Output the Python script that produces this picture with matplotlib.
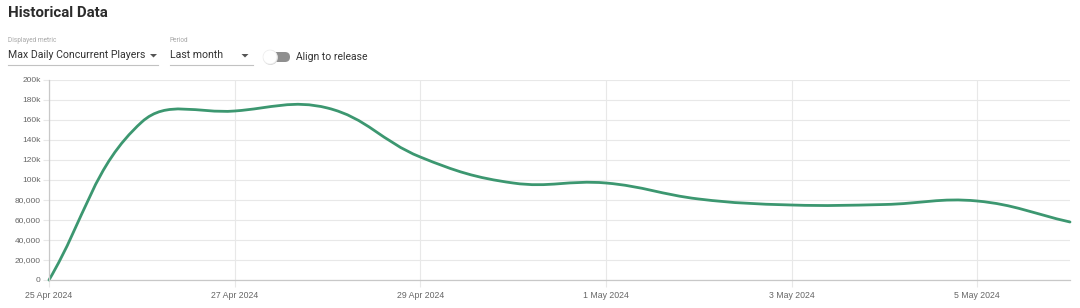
import numpy as np
import matplotlib
matplotlib.use('Agg')
import matplotlib.pyplot as plt
import matplotlib.dates as mdates
from matplotlib.path import Path
from matplotlib.patches import PathPatch, FancyBboxPatch, Circle, Polygon
from matplotlib.lines import Line2D

# ---------------- data ----------------
dates = np.arange(np.datetime64('2024-04-25'), np.datetime64('2024-05-07'))
players = [0, 158000, 169000, 172000, 123000, 97000, 97000, 81000, 75000, 75500, 79000, 58000]

y_ticks = [0, 20000, 40000, 60000, 80000, 100000, 120000, 140000, 160000, 180000, 200000]
y_tick_labels = ['0', '20,000', '40,000', '60,000', '80,000', '100k', '120k', '140k', '160k', '180k', '200k']
x_tick_dates = np.array(['2024-04-25', '2024-04-27', '2024-04-29', '2024-05-01', '2024-05-03', '2024-05-05'],
                        dtype='datetime64[D]')
x_tick_labels = ['25 Apr 2024', '27 Apr 2024', '29 Apr 2024', '1 May 2024', '3 May 2024', '5 May 2024']

title = 'Historical Data'
metric_label = 'Displayed metric'
metric_value = 'Max Daily Concurrent Players'
period_label = 'Period'
period_value = 'Last month'
toggle_label = 'Align to release'

# ---------------- figure ----------------
W, H = 1080, 308
fig = plt.figure(figsize=(W / 100, H / 100), dpi=100)
fig.patch.set_facecolor('white')

def fx(x):
    return x / W

def fy(y):
    return 1 - y / H

left, right, top, bottom = 49, 1070, 80, 280
ax = fig.add_axes([fx(left), fy(bottom), fx(right - left), (bottom - top) / H])

xnum = mdates.date2num(dates.astype('datetime64[D]'))
ax.set_xlim(xnum[0], xnum[-1])
ax.set_ylim(0, 200000)

grid_c = '#e8e8e8'
axis_c = '#c8c8c8'
tick_c = '#666666'
tick_font = ['Liberation Sans', 'DejaVu Sans']

ax.set_yticks(y_ticks)
ax.set_yticklabels(y_tick_labels, fontsize=6, color=tick_c, family=tick_font)
ax.set_xticks(mdates.date2num(x_tick_dates))
ax.set_xticklabels(x_tick_labels, fontsize=6.3, color=tick_c, family=tick_font)
ax.tick_params(axis='y', length=4, width=0.8, color=grid_c, pad=2)
ax.tick_params(axis='x', length=5, width=0.8, color=grid_c, pad=3)
ax.grid(True, color=grid_c, linewidth=0.8)
ax.set_axisbelow(True)
for s in ['top', 'right']:
    ax.spines[s].set_visible(False)
ax.spines['left'].set_color(axis_c)
ax.spines['bottom'].set_color(axis_c)
ax.spines['left'].set_linewidth(0.9)
ax.spines['bottom'].set_linewidth(0.9)

# ---- Chart.js-style spline through data points (tension 0.4) ----
fig.canvas.draw()
pts = ax.transData.transform(np.column_stack([xnum, np.asarray(players, float)]))
n = len(pts)
t = 0.4
cps_prev, cps_next = [], []
for i in range(n):
    prev = pts[i - 1] if i > 0 else pts[i]
    cur = pts[i]
    nxt = pts[i + 1] if i < n - 1 else pts[i]
    d01 = np.hypot(*(cur - prev))
    d12 = np.hypot(*(nxt - cur))
    s = d01 + d12
    s01 = d01 / s if s else 0
    s12 = d12 / s if s else 0
    cps_prev.append(cur - t * s01 * (nxt - prev))
    cps_next.append(cur + t * s12 * (nxt - prev))
verts = [pts[0]]
codes = [Path.MOVETO]
for i in range(n - 1):
    verts += [cps_next[i], cps_prev[i + 1], pts[i + 1]]
    codes += [Path.CURVE4] * 3
verts = ax.transData.inverted().transform(np.array(verts))
ax.add_patch(PathPatch(Path(verts, codes), fill=False, edgecolor='#3c9770',
                       linewidth=2.0, capstyle='round', joinstyle='round', clip_on=False))

# ---------------- header UI ----------------
fig.text(fx(8), fy(13), title, fontsize=10.8, fontweight='bold', color='#2b2b2b',
         family=['Roboto', 'DejaVu Sans'], va='center', ha='left')

ui_font = ['Roboto', 'DejaVu Sans']
fig.text(fx(8), fy(40.5), metric_label, fontsize=4.7, color='#a8a8a8', family=ui_font, va='center')
fig.text(fx(8), fy(55.5), metric_value, fontsize=7.6, color='#333333', family=ui_font, va='center')
fig.text(fx(170), fy(40.5), period_label, fontsize=4.7, color='#a8a8a8', family=ui_font, va='center')
fig.text(fx(170), fy(55.5), period_value, fontsize=7.6, color='#333333', family=ui_font, va='center')
fig.text(fx(296), fy(57), toggle_label, fontsize=7.5, color='#333333', family=ui_font, va='center')

def tri(cx, cy):
    fig.patches.append(Polygon([[fx(cx - 3.5), fy(cy - 1.5)], [fx(cx + 3.5), fy(cy - 1.5)],
                                [fx(cx), fy(cy + 2)]], closed=True, transform=fig.transFigure,
                               facecolor='#555555', edgecolor='none'))

tri(153.5, 55.5)
tri(245, 55.5)

for x0, x1 in [(8, 158), (170, 253)]:
    fig.lines.append(Line2D([fx(x0), fx(x1)], [fy(64.5), fy(64.5)], transform=fig.transFigure,
                            color='#c2c2c2', linewidth=0.8))

# toggle switch
fig.patches.append(FancyBboxPatch((266, H - 62), 24, 10, boxstyle='round,pad=0,rounding_size=5',
                                  transform=None, facecolor='#8f8f8f', edgecolor='none'))
fig.patches.append(Circle((270.5, H - 57.5), 7.5, transform=None, facecolor='#d8d8d8', edgecolor='none'))
fig.patches.append(Circle((270, H - 57), 7, transform=None, facecolor='white', edgecolor='#eeeeee', linewidth=0.5))

fig.savefig('out.png', dpi=100, facecolor='white')
